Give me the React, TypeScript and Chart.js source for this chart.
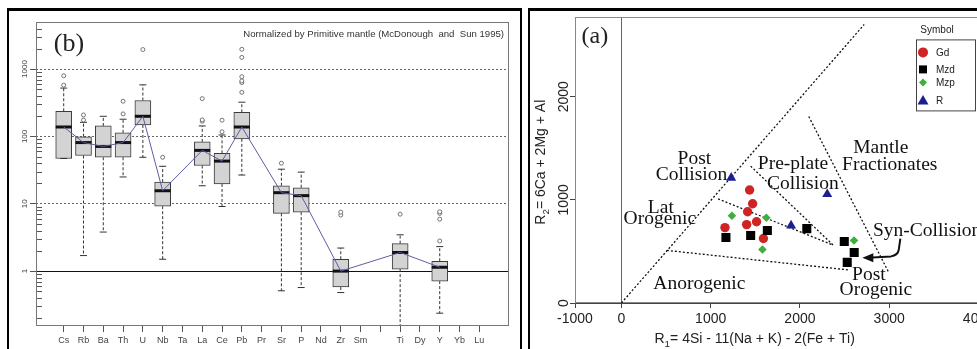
import React, { useEffect, useRef } from "react";
import { Chart, registerables } from "chart.js";

Chart.register(...registerables);

// ================= Panel (b): primitive-mantle normalised box plots =================
const ELEMENTS = ["Cs", "Rb", "Ba", "Th", "U", "Nb", "Ta", "La", "Ce", "Pb", "Pr", "Sr", "P", "Nd", "Zr", "Sm", "", "Ti", "Dy", "Y", "Yb", "Lu"];
const WHISKER_LOW = [47, 1.7, 3.8, 25, 49, 1.5, null, 18.5, 9.1, 26.7, null, 0.51, 0.57, null, 0.48, null, null, 0.1, null, 0.237, null, null];
const BOX_Q1 = [47, 52, 49, 49, 148, 9.2, null, 37, 19.7, 92, null, 7.2, 7.5, null, 0.58, null, null, 1.07, null, 0.71, null, null];
const BOX_MEDIAN = [138, 81, 71, 81, 199, 15.6, null, 62, 43, 138, null, 14.6, 13.2, null, 1.0, null, null, 1.89, null, 1.14, null, null];
const BOX_Q3 = [236, 99, 143, 113, 341, 21, null, 83, 56, 228, null, 18.5, 17.3, null, 1.5, null, null, 2.56, null, 1.4, null, null];
const WHISKER_HIGH = [522, 162, 199, 180, 583, 36, null, 143, 105, 322, null, 32.6, 29.5, null, 2.2, null, null, 3.46, null, 2.31, null, null];
const OUTLIER_ELEMENT = ["Cs", "Cs", "Rb", "Rb", "Th", "Th", "U", "Nb", "La", "La", "La", "Ce", "Ce", "Pb", "Pb", "Pb", "Pb", "Pb", "Pb", "Sr", "Zr", "Zr", "Ti", "Y", "Y", "Y", "Y"];
const OUTLIER_VALUE = [577, 795, 175, 208, 216, 333, 1950, 49, 168, 176, 364, 117, 174, 451, 630, 667, 770, 1490, 1968, 40, 6.8, 7.5, 7.0, 2.8, 5.9, 7.2, 7.6];
const Y_TICKS_B = [1, 10, 100, 1000];
const DECADES_B = [0.1, 1, 10, 100, 1000];
const NORMALIZATION_NOTE = "Normalized by Primitive mantle (McDonough  and  Sun 1995)";
const PANEL_B_LABEL = "(b)";

// ================= Panel (a): R1-R2 diagram =================
const GD_R1 = [1436, 1470, 1414, 1514, 1403, 1160, 1591];
const GD_R2 = [1096, 962, 885, 788, 760, 731, 625];
const MZD_R1 = [1171, 1448, 1635, 2077, 2497, 2608, 2530];
const MZD_R2 = [635, 654, 702, 721, 596, 490, 394];
const MZP_R1 = [1238, 1624, 1580, 2606];
const MZP_R2 = [846, 827, 519, 606];
const R_R1 = [1230, 2306, 1901];
const R_R2 = [1214, 1055, 750];

const BOUNDARY_1 = [[0, 0], [2720, 2700]];
const BOUNDARY_2 = [[510, 510], [2550, 320]];
const BOUNDARY_3 = [[1448, 1327], [2376, 558]];
const BOUNDARY_4 = [[1083, 1010], [2354, 567]];
const BOUNDARY_5 = [[2099, 1808], [2994, 298]];

const X_TICK_VALUES_A = [-520, 0, 1000, 2000, 3000, 4000];
const X_TICK_LABELS_A = ["-1000", "0", "1000", "2000", "3000", "4000"];
const Y_TICKS_A = [0, 1000, 2000];

const REGION_LABELS = [
  { text: "Post", r1: 818, r2: 1346, align: "center" },
  { text: "Collision", r1: 785, r2: 1192, align: "center" },
  { text: "Lat", r1: 442, r2: 875, align: "center" },
  { text: "Orogenic", r1: 431, r2: 769, align: "center" },
  { text: "Pre-plate", r1: 1923, r2: 1298, align: "center" },
  { text: "Collision", r1: 2033, r2: 1106, align: "center" },
  { text: "Mantle", r1: 2906, r2: 1452, align: "center" },
  { text: "Fractionates", r1: 3006, r2: 1288, align: "center" },
  { text: "Syn-Collision", r1: 2818, r2: 654, align: "left" },
  { text: "Post", r1: 2773, r2: 221, align: "center" },
  { text: "Orogenic", r1: 2851, r2: 77, align: "center" },
  { text: "Anorogenic", r1: 873, r2: 135, align: "center" },
];
const PANEL_A_LABEL = { text: "(a)", r1: -298, r2: 2519 };
// arrow from "Syn-Collision" to the Mzd cluster: start, bend, control, bend end, shaft end, tip
const ARROW_PATH = [[3125, 625], [3108, 519], [3097, 462], [3020, 452], [2810, 442], [2699, 438]];
const LEGEND_TITLE = "Symbol";
const X_TITLE = ["R", "1", "= 4Si - 11(Na + K) - 2(Fe + Ti)"];
const Y_TITLE = ["R", "2", "= 6Ca + 2Mg + Al"];
const X_TITLE_CENTER = 1493;
const Y_TITLE_CENTER = 1365;

const SANS = "'Liberation Sans', Arial, sans-serif";
const SERIF = "'Liberation Serif', 'Times New Roman', serif";

function buildLeft(): any {
  const boxes: any[] = [];
  const whiskers: any[] = [];
  const caps: any[] = [];
  const medians: any[] = [];
  ELEMENTS.forEach((_, i) => {
    if (BOX_Q1[i] == null) return;
    boxes.push({ x: i, y: [BOX_Q1[i], BOX_Q3[i]] });
    whiskers.push(
      { x: i, y: BOX_Q3[i] }, { x: i, y: WHISKER_HIGH[i] }, { x: i, y: null },
      { x: i, y: BOX_Q1[i] }, { x: i, y: WHISKER_LOW[i] }, { x: i, y: null }
    );
    caps.push({ x: i, y: WHISKER_HIGH[i] }, { x: i, y: WHISKER_LOW[i] });
    medians.push({ x: i, y: BOX_MEDIAN[i] });
  });
  const outliers = OUTLIER_ELEMENT.map((el, k) => ({ x: ELEMENTS.indexOf(el), y: OUTLIER_VALUE[k] }));

  const decor = {
    id: "leftDecor",
    beforeDatasetsDraw(chart: any) {
      const { ctx, chartArea: ca, scales } = chart;
      const y = scales.y;
      ctx.save();
      ctx.strokeStyle = "#555";
      ctx.lineWidth = 1;
      ctx.beginPath();
      for (const d of DECADES_B) {
        for (let k = 2; k <= 9; k++) {
          const v = d * k;
          if (v < y.min || v > y.max) continue;
          const py = Math.round(y.getPixelForValue(v)) + 0.5;
          ctx.moveTo(ca.left, py);
          ctx.lineTo(ca.left + 6, py);
        }
      }
      ctx.stroke();
      ctx.restore();
    },
    afterDraw(chart: any) {
      const { ctx, chartArea: ca } = chart;
      ctx.save();
      ctx.strokeStyle = "#777";
      ctx.lineWidth = 1;
      ctx.strokeRect(Math.round(ca.left) + 0.5, Math.round(ca.top) + 0.5, Math.round(ca.width) - 1, Math.round(ca.height) - 1);
      ctx.fillStyle = "#333";
      ctx.font = `9.6px ${SANS}`;
      ctx.textAlign = "right";
      ctx.textBaseline = "middle";
      ctx.fillText(NORMALIZATION_NOTE, ca.right - 5, ca.top + 12);
      ctx.fillStyle = "#222";
      ctx.font = `26px ${SERIF}`;
      ctx.textAlign = "center";
      ctx.textBaseline = "alphabetic";
      ctx.fillText(PANEL_B_LABEL, ca.left + 33, ca.top + 29);
      ctx.restore();
    },
  };

  return {
    type: "bar",
    data: {
      datasets: [
        { type: "scatter", data: outliers, pointStyle: "circle", pointRadius: 2, pointBorderWidth: 0.8, pointBorderColor: "#555", pointBackgroundColor: "#fff", borderColor: "#555", backgroundColor: "#fff", order: 0 },
        { type: "line", data: medians, borderColor: "#5d5da3", borderWidth: 1, pointRadius: 0, spanGaps: true, order: 1 },
        { type: "scatter", data: medians, pointStyle: "line", pointRadius: 8, pointBorderWidth: 3, pointBorderColor: "#111", borderColor: "#111", order: 2 },
        { type: "scatter", data: caps, pointStyle: "line", pointRadius: 3.5, pointBorderWidth: 1, pointBorderColor: "#333", borderColor: "#333", order: 3 },
        { type: "line", data: whiskers, borderColor: "#333", borderWidth: 1, borderDash: [3, 2], pointRadius: 0, spanGaps: false, order: 4 },
        { type: "bar", data: boxes, barThickness: 16, backgroundColor: "#d3d3d3", borderColor: "#3a3a3a", borderWidth: 1, borderSkipped: false, order: 5 },
      ],
    },
    options: {
      animation: false,
      responsive: false,
      events: [],
      layout: { padding: { top: 5, right: 6, left: 0, bottom: 0 } },
      plugins: { legend: { display: false }, tooltip: { enabled: false } },
      scales: {
        x: {
          type: "linear",
          min: -1.4,
          max: 22.5,
          offset: false,
          afterBuildTicks: (s: any) => { s.ticks = ELEMENTS.map((_, i) => ({ value: i })); },
          afterFit: (s: any) => { s.height = 23; },
          ticks: {
            autoSkip: false, maxRotation: 0, minRotation: 0, padding: 3,
            color: "#444", font: { family: SANS, size: 9 },
            callback: (v: any) => ELEMENTS[v] ?? "",
          },
          grid: { offset: false, drawOnChartArea: false, drawTicks: true, tickLength: 6, color: "#555", tickColor: "#555" },
          border: { display: false },
        },
        y: {
          type: "logarithmic",
          min: 0.153,
          max: 5000,
          afterBuildTicks: (s: any) => { s.ticks = Y_TICKS_B.map((v) => ({ value: v })); },
          afterFit: (s: any) => { s.width = 27; },
          ticks: {
            autoSkip: false, minRotation: 90, maxRotation: 90, crossAlign: "center", padding: -3.5,
            color: "#444", font: { family: SANS, size: 8 },
            callback: (v: any) => String(v),
          },
          grid: {
            color: (c: any) => (c.tick && c.tick.value === 1 ? "#111" : "#666"),
            lineWidth: 1, tickLength: 6, tickColor: "#555",
          },
          border: { display: false, dash: (c: any) => (c.tick && c.tick.value === 1 ? [] : [2, 2]) },
        },
      },
    },
    plugins: [decor],
  };
}

function drawMarker(ctx: any, style: string, cx: number, cy: number, color: string) {
  ctx.fillStyle = color;
  ctx.beginPath();
  if (style === "circle") {
    ctx.arc(cx, cy, 5, 0, Math.PI * 2);
  } else if (style === "rect") {
    ctx.rect(cx - 4, cy - 4, 8, 8);
  } else if (style === "rectRot") {
    ctx.moveTo(cx, cy - 4); ctx.lineTo(cx + 4, cy); ctx.lineTo(cx, cy + 4); ctx.lineTo(cx - 4, cy);
  } else {
    ctx.moveTo(cx, cy - 5.5); ctx.lineTo(cx + 5.5, cy + 4); ctx.lineTo(cx - 5.5, cy + 4);
  }
  ctx.closePath();
  ctx.fill();
}

function drawSubText(ctx: any, parts: string[], size: number) {
  // draws centred at (0,0) with alphabetic baseline at y=0
  const main = `${size}px ${SANS}`;
  const sub = `${size * 0.7}px ${SANS}`;
  ctx.font = main; const w0 = ctx.measureText(parts[0]).width; const w2 = ctx.measureText(parts[2]).width;
  ctx.font = sub; const w1 = ctx.measureText(parts[1]).width;
  let x = -(w0 + w1 + w2) / 2;
  ctx.textAlign = "left"; ctx.textBaseline = "alphabetic";
  ctx.font = main; ctx.fillText(parts[0], x, 0); x += w0;
  ctx.font = sub; ctx.fillText(parts[1], x, size * 0.28); x += w1;
  ctx.font = main; ctx.fillText(parts[2], x, 0);
}

function buildRight(): any {
  const pts = (a: number[], b: number[]) => a.map((x, i) => ({ x, y: b[i] }));
  const seg = (s: number[][]) => s.map(([x, y]) => ({ x, y }));
  const boundary = (s: number[][]) => ({ type: "line", data: seg(s), borderColor: "#111", borderWidth: 1.3, borderDash: [2, 2], pointRadius: 0, order: 10 });

  const decor = {
    id: "rightDecor",
    beforeDatasetsDraw(chart: any) {
      const { ctx, chartArea: ca } = chart;
      ctx.save();
      ctx.strokeStyle = "#888";
      ctx.lineWidth = 1;
      ctx.strokeRect(Math.round(ca.left) + 0.5, Math.round(ca.top) + 0.5, Math.round(ca.width) - 1, Math.round(ca.height) - 1);
      ctx.restore();
    },
    afterDatasetsDraw(chart: any) {
      const { ctx, chartArea: ca, scales } = chart;
      const x = scales.x, y = scales.y;
      ctx.save();
      ctx.fillStyle = "#111";
      ctx.font = `19.5px ${SERIF}`;
      ctx.textBaseline = "alphabetic";
      for (const lab of REGION_LABELS) {
        ctx.textAlign = lab.align;
        ctx.fillText(lab.text, x.getPixelForValue(lab.r1), y.getPixelForValue(lab.r2));
      }
      ctx.font = `24px ${SERIF}`;
      ctx.textAlign = "center";
      ctx.fillStyle = "#222";
      ctx.fillText(PANEL_A_LABEL.text, x.getPixelForValue(PANEL_A_LABEL.r1), y.getPixelForValue(PANEL_A_LABEL.r2));

      // arrow
      const P = ARROW_PATH.map(([a, b]) => [x.getPixelForValue(a), y.getPixelForValue(b)]);
      ctx.strokeStyle = "#111";
      ctx.fillStyle = "#111";
      ctx.lineWidth = 2;
      ctx.beginPath();
      ctx.moveTo(P[0][0], P[0][1]);
      ctx.lineTo(P[1][0], P[1][1]);
      ctx.quadraticCurveTo(P[2][0], P[2][1], P[3][0], P[3][1]);
      ctx.lineTo(P[4][0], P[4][1]);
      ctx.stroke();
      const tip = P[5];
      ctx.beginPath();
      ctx.moveTo(tip[0], tip[1]);
      ctx.lineTo(tip[0] + 11, tip[1] - 4.5);
      ctx.lineTo(tip[0] + 11, tip[1] + 4.5);
      ctx.closePath();
      ctx.fill();

      // legend
      const lx = ca.left + 341, ly = ca.top + 22;
      ctx.fillStyle = "#fff";
      ctx.fillRect(lx, ly, 59, 71);
      ctx.strokeStyle = "#444";
      ctx.lineWidth = 1;
      ctx.strokeRect(lx + 0.5, ly + 0.5, 59, 71);
      ctx.fillStyle = "#222";
      ctx.font = `10px ${SANS}`;
      ctx.textAlign = "center";
      ctx.textBaseline = "middle";
      ctx.fillText(LEGEND_TITLE, lx + 21, ly - 9);
      const rows = [13, 30, 43, 61];
      const items = chart.data.datasets.filter((d: any) => d.type === "scatter");
      items.forEach((d: any, k: number) => {
        drawMarker(ctx, d.pointStyle, lx + 7, ly + rows[k], d.backgroundColor);
        ctx.fillStyle = "#222";
        ctx.textAlign = "left";
        ctx.fillText(d.label, lx + 20, ly + rows[k] + 0.5);
      });
      ctx.restore();
    },
    afterDraw(chart: any) {
      const { ctx, scales } = chart;
      const x = scales.x, y = scales.y;
      ctx.save();
      ctx.fillStyle = "#222";
      ctx.translate(x.getPixelForValue(X_TITLE_CENTER), x.bottom - 6);
      drawSubText(ctx, X_TITLE, 14);
      ctx.restore();
      ctx.save();
      ctx.fillStyle = "#222";
      ctx.translate(y.left + 15, y.getPixelForValue(Y_TITLE_CENTER));
      ctx.rotate(-Math.PI / 2);
      drawSubText(ctx, Y_TITLE, 14);
      ctx.restore();
    },
  };

  return {
    type: "scatter",
    data: {
      datasets: [
        { type: "scatter", label: "Gd", data: pts(GD_R1, GD_R2), pointStyle: "circle", pointRadius: 4.7, backgroundColor: "#cf2424", borderColor: "#cf2424", borderWidth: 0, order: 3 },
        { type: "scatter", label: "Mzd", data: pts(MZD_R1, MZD_R2), pointStyle: "rect", pointRadius: 6.4, backgroundColor: "#000000", borderColor: "#000000", borderWidth: 0, order: 2 },
        { type: "scatter", label: "Mzp", data: pts(MZP_R1, MZP_R2), pointStyle: "rectRot", pointRadius: 4.3, backgroundColor: "#3fae3f", borderColor: "#3fae3f", borderWidth: 0, order: 1 },
        { type: "scatter", label: "R", data: pts(R_R1, R_R2), pointStyle: "triangle", pointRadius: 5.8, backgroundColor: "#1c1f92", borderColor: "#1c1f92", borderWidth: 0, order: 0 },
        boundary(BOUNDARY_1),
        boundary(BOUNDARY_2),
        boundary(BOUNDARY_3),
        boundary(BOUNDARY_4),
        boundary(BOUNDARY_5),
      ],
    },
    options: {
      animation: false,
      responsive: false,
      events: [],
      layout: { padding: { top: 4, right: 0, left: 0, bottom: 0 } },
      plugins: { legend: { display: false }, tooltip: { enabled: false } },
      scales: {
        x: {
          type: "linear",
          min: -520,
          max: 4618,
          afterBuildTicks: (s: any) => { s.ticks = X_TICK_VALUES_A.map((v) => ({ value: v })); },
          afterFit: (s: any) => { s.height = 46; },
          ticks: {
            autoSkip: false, maxRotation: 0, minRotation: 0, padding: 3,
            color: "#222", font: { family: SANS, size: 14 },
            callback: (_v: any, i: number) => X_TICK_LABELS_A[i],
          },
          grid: {
            color: (c: any) => (c.tick && c.tick.value === 0 ? "#666" : "rgba(0,0,0,0)"),
            tickColor: "#444", tickLength: 5, lineWidth: 1,
          },
          border: { display: true, color: "#444", width: 1 },
        },
        y: {
          type: "linear",
          min: 0,
          max: 2769,
          afterBuildTicks: (s: any) => { s.ticks = Y_TICKS_A.map((v) => ({ value: v })); },
          afterFit: (s: any) => { s.width = 45; },
          ticks: {
            autoSkip: false, minRotation: 90, maxRotation: 90, crossAlign: "center", padding: -10.1,
            color: "#222", font: { family: SANS, size: 14 },
            callback: (v: any) => String(v),
          },
          grid: { drawOnChartArea: false, tickLength: 5, tickColor: "#444" },
          border: { display: true, color: "#555", width: 1 },
        },
      },
    },
    plugins: [decor],
  };
}

export default function App() {
  const leftRef = useRef<HTMLCanvasElement>(null);
  const rightRef = useRef<HTMLCanvasElement>(null);

  useEffect(() => {
    const c1 = new Chart(leftRef.current as HTMLCanvasElement, buildLeft());
    const c2 = new Chart(rightRef.current as HTMLCanvasElement, buildRight());
    return () => {
      c1.destroy();
      c2.destroy();
    };
  }, []);

  return (
    <div style={{ position: "fixed", left: 0, top: 0, width: 977, height: 349, overflow: "hidden", background: "#fff" }}>
      <div style={{ position: "absolute", left: 7, top: 8, width: 515, height: 400, boxSizing: "border-box", borderLeft: "2px solid #000", borderRight: "2px solid #000", borderTop: "3px solid #000" }} />
      <div style={{ position: "absolute", left: 528, top: 8, width: 520, height: 400, boxSizing: "border-box", borderLeft: "2px solid #000", borderTop: "3px solid #000" }} />
      <canvas ref={leftRef} width={511} height={338} style={{ position: "absolute", left: 9, top: 11, width: 511, height: 338 }} />
      <canvas ref={rightRef} width={510} height={338} style={{ position: "absolute", left: 530, top: 11, width: 510, height: 338 }} />
    </div>
  );
}
